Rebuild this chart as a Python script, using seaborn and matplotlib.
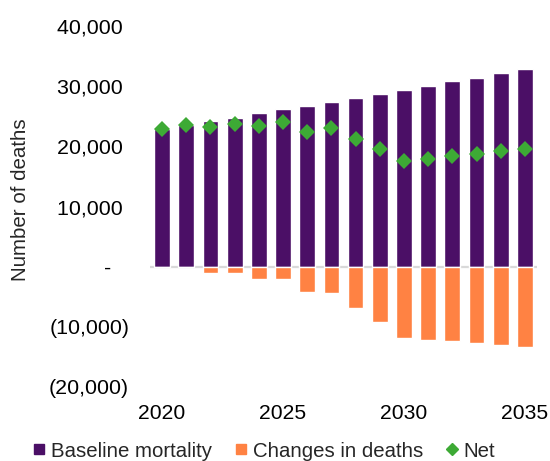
import matplotlib
matplotlib.use("Agg")
import matplotlib.pyplot as plt
from matplotlib.lines import Line2D
from matplotlib.ticker import FuncFormatter
import seaborn as sns
import pandas as pd

years = list(range(2020, 2036))
baseline = [22900, 23600, 24200, 24750, 25500, 26150, 26650, 27350,
            28050, 28750, 29400, 30100, 30800, 31400, 32250, 32900]
changes = [0, 0, -1000, -1000, -2100, -2100, -4250, -4350,
           -6800, -9250, -11850, -12150, -12400, -12700, -12950, -13350]
net = [22900, 23600, 23200, 23750, 23400, 24050, 22400, 23000,
       21250, 19500, 17550, 17950, 18400, 18700, 19300, 19550]
year_ticks = [2020, 2025, 2030, 2035]

series_names = ["Baseline mortality", "Changes in deaths", "Net"]
purple = "#4B0F66"
orange = "#FF8243"
green = "#3DAA35"

sns.set_style("white")
plt.rcParams["font.family"] = ["Liberation Sans", "DejaVu Sans"]
plt.rcParams["font.size"] = 14.7

df = pd.DataFrame({"year": years, "baseline": baseline,
                   "changes": changes, "net": net})

fig = plt.figure(figsize=(5.5, 4.61), dpi=100)
ax = fig.add_axes([150 / 550, 1 - 387 / 461, 387 / 550, 361 / 461])

ax.axhline(0, color="#d9d9d9", lw=1.6, zorder=0.5)

sns.barplot(data=df, x="year", y="baseline", order=years, color=purple,
            width=0.65, saturation=1, ax=ax, zorder=2)
sns.barplot(data=df, x="year", y="changes", order=years, color=orange,
            width=0.65, saturation=1, ax=ax, zorder=2)
sns.pointplot(data=df, x="year", y="net", order=years, color=green,
              linestyle="none", marker="D", markersize=8.6,
              markeredgewidth=0, errorbar=None, ax=ax, zorder=3)

ax.set_xlim(-0.5, len(years) - 0.5)
ax.set_ylim(-20000, 40000)
ax.set_yticks(range(-20000, 40001, 10000))


def fmt(v, _pos):
    if v == 0:
        return "-   "
    if v < 0:
        return f"({-v:,.0f})"
    return f"{v:,.0f} "


ax.yaxis.set_major_formatter(FuncFormatter(fmt))
ax.set_xticks([years.index(y) for y in year_ticks])
ax.set_xticklabels([str(y) for y in year_ticks])
ax.tick_params(axis="x", length=0, labelsize=15.2, colors="black", pad=12)
ax.tick_params(axis="y", length=0, labelsize=15.4, colors="black", pad=15)

for s in ax.spines.values():
    s.set_visible(False)

ax.set_xlabel("")
ax.set_ylabel("Number of deaths", fontsize=14.8)
ax.yaxis.set_label_coords(-0.31, 0.52)

handles = [
    Line2D([], [], marker="s", linestyle="none", color=purple, markersize=7.5),
    Line2D([], [], marker="s", linestyle="none", color=orange, markersize=7.5),
    Line2D([], [], marker="D", linestyle="none", color=green, markersize=6.5),
]
fig.legend(handles, series_names, loc="center", ncol=3, frameon=False,
           bbox_to_anchor=(264 / 550, 1 - 451 / 461), fontsize=14.7,
           handlelength=0.6, handletextpad=0.3, columnspacing=1.1,
           borderpad=0, borderaxespad=0)

fig.savefig("out.png", dpi=100)
